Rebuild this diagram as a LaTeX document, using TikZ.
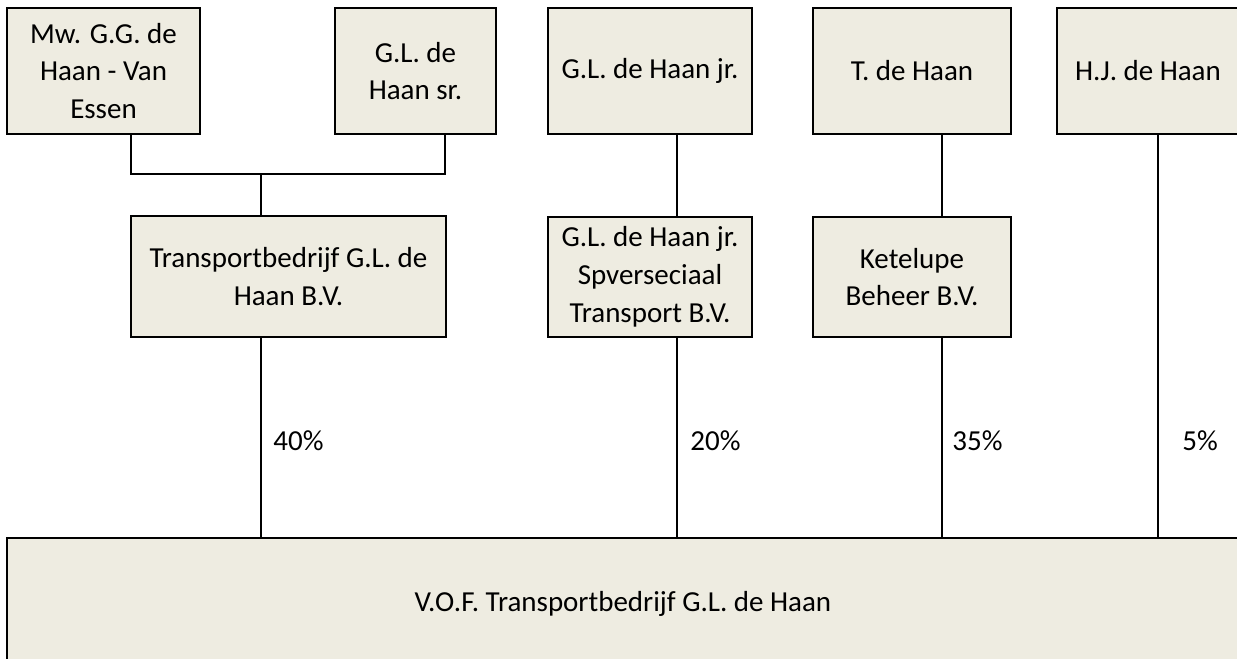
\documentclass[tikz,border=0pt]{standalone}
\usepackage{fontspec}
\setmainfont{Carlito}
\definecolor{boxfill}{HTML}{EEECE1}
\begin{document}
\begin{tikzpicture}
[x=0.02cm,y=-0.02cm,%
  boxDecorate/.style={draw,line width=1.5pt,fill=boxfill,align=center,inner sep=0pt,
    font=\fontsize{16.5}{21.5}\selectfont},%
  linkDecorate/.style={line width=1.2pt},%
  pctDecorate/.style={anchor=west,inner sep=0pt,font=\fontsize{16.5}{21.5}\selectfont}]
\useasboundingbox (0,0) rectangle (1237,659);
\clip (0,0) rectangle (1237,659);
%% owners
\foreach \nodename/\x/\y/\w/\h/\txt in {
  mw/103.5/71/3.86/2.52/{Mw. G.G. de\\Haan - Van\\Essen},
  sr/415.5/71/3.22/2.52/{G.L. de\\Haan sr.},
  jr/650/71/4.08/2.52/{G.L. de Haan jr.},
  th/912/71/3.96/2.52/{T. de Haan},
  hj/1148/71/3.64/2.52/{H.J. de Haan},
  tb/288.5/276.5/6.30/2.42/{Transportbedrijf G.L. de\\Haan B.V.},
  sp/650/277/4.08/2.40/{G.L. de Haan jr.\\Spverseciaal\\Transport B.V.},
  kb/912/277/3.96/2.40/{Ketelupe\\Beheer B.V.}}
{
  \node (\nodename) at (\x,\y) [boxDecorate,minimum width=\w cm,minimum height=\h cm] {\txt};
}
%% partnership
\node (vof) at (623,604) [boxDecorate,minimum width=24.64cm,minimum height=2.64cm] {V.O.F. Transportbedrijf G.L. de Haan};
%% links
\coordinate (join) at (261,174);
\draw[linkDecorate] (mw.south -| 131,0) |- (join) -| (sr.south -| 445,0);
\draw[linkDecorate] (join) -- (tb.north -| join);
\foreach \startnode/\endnode/\x in {
  tb/vof/261, jr/sp/677, sp/vof/677, th/kb/942, kb/vof/942, hj/vof/1158}
{
  \draw[linkDecorate] (\startnode.south -| \x,0) -- (\endnode.north -| \x,0);
}
%% shares
\foreach \nodename/\x/\share in {
  p40/273/40, p20/690/20, p35/952/35, p5/1182/5}
{
  \node (\nodename) at (\x,441) [pctDecorate] {\share\%};
}
\end{tikzpicture}
\end{document}
